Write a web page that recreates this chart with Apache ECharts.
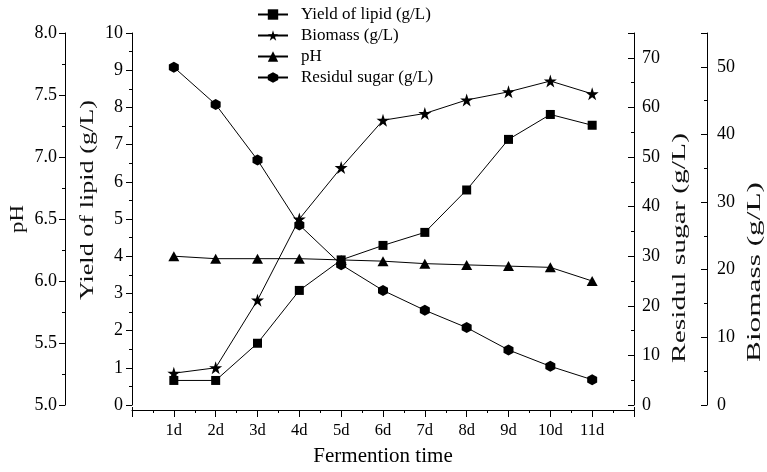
<!DOCTYPE html>
<html>
<head>
<meta charset="utf-8">
<script src="https://cdn.jsdelivr.net/npm/echarts@6/dist/echarts.min.js"></script>
<style>
html,body{margin:0;padding:0;background:#fff;}
#chart{width:767px;height:472px;}
</style>
</head>
<body>
<div id="chart"></div>
<script>
// ---- data ----
const days = ['1d','2d','3d','4d','5d','6d','7d','8d','9d','10d','11d'];
const yieldLipid    = [0.66, 0.66, 1.66, 3.08, 3.90, 4.29, 4.64, 5.78, 7.14, 7.81, 7.52];
const biomass       = [4.7, 5.5, 15.5, 27.5, 35.1, 42.1, 43.1, 45.1, 46.3, 47.9, 46.0];
const pH            = [6.20, 6.18, 6.18, 6.18, 6.17, 6.16, 6.14, 6.13, 6.12, 6.11, 6.00];
const residualSugar = [68.1, 60.6, 49.4, 36.3, 28.3, 23.1, 19.1, 15.6, 11.1, 7.8, 5.1];
const seriesNames = ['Yield of lipid (g/L)', 'Biomass (g/L)', 'pH', 'Residul sugar (g/L)'];
const axisNames = ['pH', 'Yield of lipid (g/L)', 'Residul sugar (g/L)', 'Biomass (g/L)'];
const xAxisName = 'Fermention time';

const FONT = '"Liberation Serif", "Times New Roman", serif';
const BLACK = '#000';

const toPairs = arr => arr.map((v, i) => [i + 1, v]);

const STAR = 'path://M50,0 L61.2,34.5 L97.6,34.5 L68.2,55.9 L79.4,90.5 L50,69.1 L20.6,90.5 L31.8,55.9 L2.4,34.5 L38.8,34.5 Z';
const HEX = 'path://M0,-10 L8.66,-5 L8.66,5 L0,10 L-8.66,5 L-8.66,-5 Z';

function yAx(opts) {
  const inside = opts.position === 'right';
  return Object.assign({
    type: 'value',
    axisLine: { show: true, onZero: false, lineStyle: { color: BLACK, width: 1 } },
    axisTick: { show: true, inside: inside, length: 6, lineStyle: { color: BLACK } },
    minorTick: { show: true, splitNumber: 2, length: 3, lineStyle: { color: BLACK } },
    splitLine: { show: false },
    minorSplitLine: { show: false }
  }, opts);
}
function lbl(margin, formatter) {
  const o = { color: BLACK, fontFamily: FONT, fontSize: 18, margin: margin };
  if (formatter) o.formatter = formatter;
  return o;
}

function fitScale(text, len, font) {
  const c = document.createElement('canvas').getContext('2d');
  c.font = font;
  return len / c.measureText(text).width;
}
const NAMEFONT = '21px "Liberation Serif"';
function vName(text, x, y, len) {
  return {
    type: 'text', x: x, y: y, rotation: Math.PI / 2,
    scaleX: fitScale(text, len, NAMEFONT), scaleY: 0.92,
    style: { text: text, font: NAMEFONT, fill: '#111',
      textAlign: 'center', textVerticalAlign: 'middle', align: 'center', verticalAlign: 'middle' }
  };
}

const chart = echarts.init(document.getElementById('chart'), null, { renderer: 'canvas' });
chart.setOption({
  animation: false,
  backgroundColor: '#fff',
  grid: { left: 132, right: 133, top: 33, bottom: 65, containLabel: false },
  legend: {
    orient: 'vertical', left: 257, top: 6, padding: 0,
    itemWidth: 30, itemHeight: 13, itemGap: 4,
    data: seriesNames,
    textStyle: { color: BLACK, fontFamily: FONT, fontSize: 17, padding: [0, 0, 0, 8] }
  },
  xAxis: {
    type: 'value', min: 0, max: 12, interval: 1, offset: 5,
    name: xAxisName, nameLocation: 'middle', nameGap: 36,
    nameTextStyle: { color: BLACK, fontFamily: FONT, fontSize: 21 },
    axisLine: { show: true, onZero: false, lineStyle: { color: BLACK, width: 1 } },
    axisTick: { show: true, length: 7, lineStyle: { color: BLACK } },
    minorTick: { show: true, splitNumber: 2, length: 3, lineStyle: { color: BLACK } },
    splitLine: { show: false },
    axisLabel: {
      color: BLACK, fontFamily: FONT, fontSize: 16.5, margin: 12,
      formatter: v => (v >= 1 && v <= days.length ? days[v - 1] : '')
    }
  },
  yAxis: [
    yAx({ position: 'left', offset: 67, min: 5, max: 8, interval: 0.5,
      axisLabel: lbl(8, v => v.toFixed(1)) }),
    yAx({ position: 'left', offset: 0, min: 0, max: 10, interval: 1,
      axisLabel: lbl(9) }),
    yAx({ position: 'right', offset: 0, min: 0, max: 75, interval: 10,
      axisLabel: lbl(8, v => (v > 70 ? '' : v)) }),
    yAx({ position: 'right', offset: 73, min: 0, max: 55, interval: 10,
      axisLabel: lbl(10, v => (v > 50 ? '' : v)) })
  ],
  graphic: [
    vName(axisNames[0], 18, 219, 28),
    vName(axisNames[1], 87.5, 200, 200),
    vName(axisNames[2], 680, 248, 230),
    vName(axisNames[3], 755, 272, 180),
    { type: 'line', shape: { x1: 132.5, y1: 407, x2: 132.5, y2: 412 }, style: { stroke: BLACK, lineWidth: 1 } },
    { type: 'line', shape: { x1: 634.5, y1: 407, x2: 634.5, y2: 412 }, style: { stroke: BLACK, lineWidth: 1 } }
  ],
  series: [
    { name: seriesNames[0], type: 'line', yAxisIndex: 1, data: toPairs(yieldLipid),
      symbol: 'rect', symbolSize: 9, itemStyle: { color: BLACK }, lineStyle: { color: BLACK, width: 1 } },
    { name: seriesNames[1], type: 'line', yAxisIndex: 3, data: toPairs(biomass),
      symbol: STAR, symbolSize: 13, itemStyle: { color: BLACK }, lineStyle: { color: BLACK, width: 1 } },
    { name: seriesNames[2], type: 'line', yAxisIndex: 0, data: toPairs(pH),
      symbol: 'triangle', symbolSize: [11, 10], itemStyle: { color: BLACK }, lineStyle: { color: BLACK, width: 1 } },
    { name: seriesNames[3], type: 'line', yAxisIndex: 2, data: toPairs(residualSugar),
      symbol: HEX, symbolSize: [10, 11], itemStyle: { color: BLACK }, lineStyle: { color: BLACK, width: 1 } }
  ]
});
</script>
</body>
</html>
